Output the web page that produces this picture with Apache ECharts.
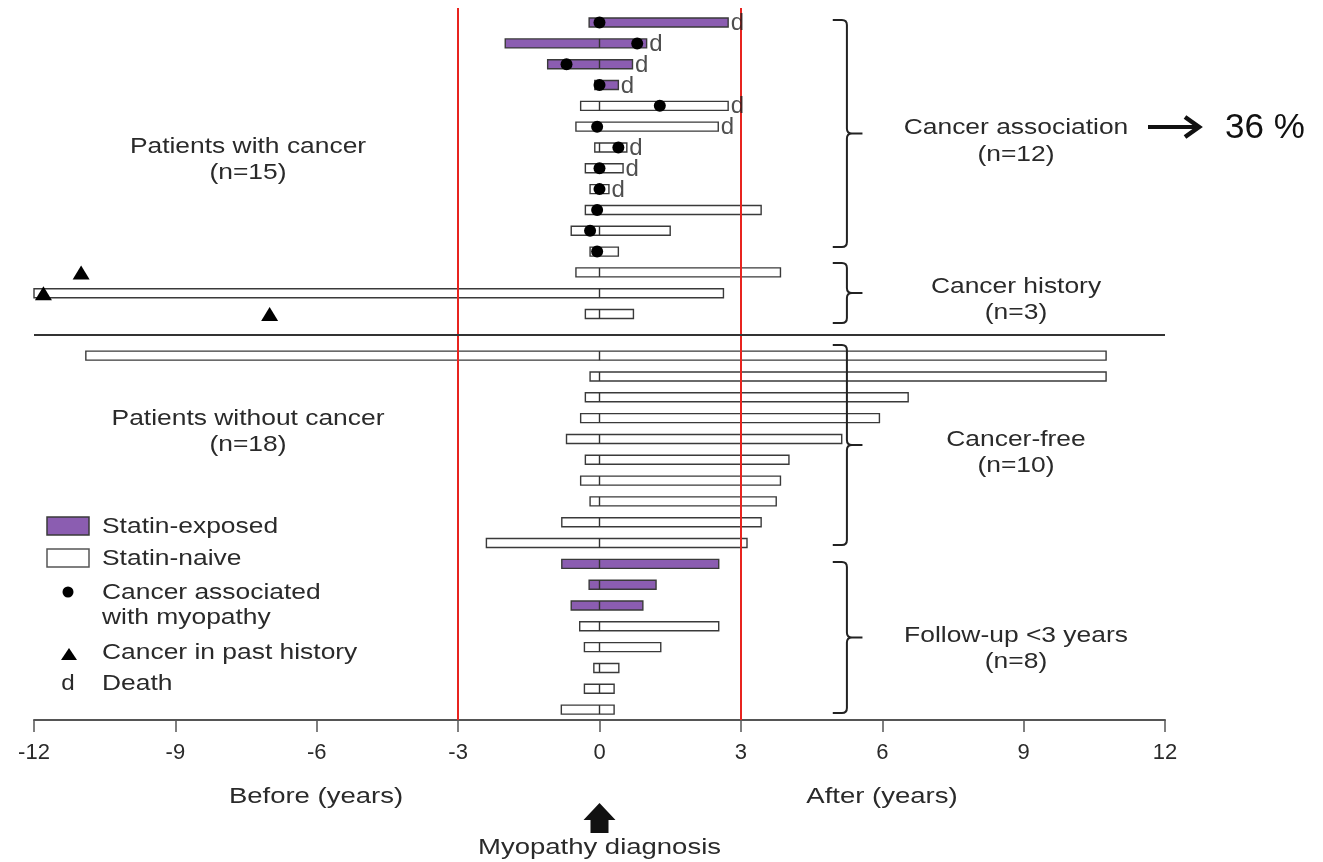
<!DOCTYPE html>
<html>
<head>
<meta charset="utf-8">
<script src="https://cdn.jsdelivr.net/npm/echarts@6/dist/echarts.min.js"></script>
<style>
html,body{margin:0;padding:0;background:#fff;}
#chart{width:1323px;height:862px;}
</style>
</head>
<body>
<div id="chart"></div>
<script>
// ---- data (years relative to myopathy diagnosis) ----
const rowPos = [0,1,2,3,4,5,6,7,8,9,10,11,12,13,14,
                16,17,18,19,20,21,22,23,24,25,
                26,27,28,29,30,31,32,33];
const startYr = [-0.22,-2.0,-1.1,-0.1,-0.4,-0.5,-0.1,-0.3,-0.2,-0.3,-0.6,-0.2,-0.5,-12.0,-0.3,
                 -10.9,-0.2,-0.3,-0.4,-0.7,-0.3,-0.4,-0.2,-0.8,-2.4,
                 -0.8,-0.22,-0.6,-0.42,-0.32,-0.12,-0.32,-0.81];
const endYr = [2.73,1.0,0.7,0.4,2.73,2.52,0.58,0.5,0.2,3.43,1.5,0.4,3.84,2.63,0.72,
               10.75,10.75,6.55,5.94,5.14,4.02,3.84,3.75,3.43,3.13,
               2.53,1.2,0.92,2.53,1.3,0.41,0.31,0.31];
const statinExposed = [1,1,1,1,0,0,0,0,0,0,0,0,0,0,0,
                       0,0,0,0,0,0,0,0,0,0,
                       1,1,1,0,0,0,0,0];
const cancerAt = [0,0.8,-0.7,0,1.28,-0.05,0.4,0,0,-0.05,-0.2,-0.05,null,null,null,
                  null,null,null,null,null,null,null,null,null,null,
                  null,null,null,null,null,null,null,null];
const died = [1,1,1,1,1,1,1,1,1,0,0,0,0,0,0,
              0,0,0,0,0,0,0,0,0,0,
              0,0,0,0,0,0,0,0];
const pastCancerYr = [-11.0,-11.8,-7.0];
const pastCancerRow = [12,13,14];
const separatorRow = 15;
const windowLines = [-3,3];
const xTicks = ['-12','-9','-6','-3','0','3','6','9','12'];
const braceTop = [-0.12,11.55,15.49,25.91];
const braceBottom = [10.78,14.43,25.09,33.16];
const groupNames = ['Cancer association','Cancer history','Cancer-free','Follow-up <3 years'];
const groupN = ['(n=12)','(n=3)','(n=10)','(n=8)'];

// ---- build series data ----
const barData = rowPos.map((r,i)=>[startYr[i], endYr[i], r, statinExposed[i]]);
const dotData = [];
rowPos.forEach((r,i)=>{ if(cancerAt[i]!==null) dotData.push([cancerAt[i], r]); });
const deathData = [];
rowPos.forEach((r,i)=>{ if(died[i]) deathData.push([endYr[i], r]); });
const triData = pastCancerYr.map((x,i)=>[x, pastCancerRow[i]]);
const braceData = braceTop.map((t,i)=>[t, braceBottom[i]]);

const PURPLE = '#8b5db1';
const FONT = '"Liberation Sans", Arial, sans-serif';
const TXT = '#2a2a2a';

const chart = echarts.init(document.getElementById('chart'), null, {renderer:'canvas'});

function tx(text, x, y, size, opts){
  opts = opts || {};
  return {
    type:'text', x:x, y:y, scaleX: opts.scaleX===undefined?1.2:opts.scaleX, z:10,
    style:{text:text, font:(size||22)+'px '+FONT, fill:opts.fill||TXT,
      align:opts.align||'center', verticalAlign:'middle',
      textAlign:opts.align||'center', textVerticalAlign:'middle'}
  };
}

const option = {
  animation:false,
  backgroundColor:'#fff',
  grid:{left:34, right:158, top:8, bottom:142},
  xAxis:{
    type:'value', min:-12, max:12, interval:3,
    axisLine:{show:true, onZero:false, lineStyle:{color:'#555', width:2}},
    axisTick:{show:true, length:12, lineStyle:{color:'#555', width:1.5}},
    axisLabel:{fontSize:22, color:TXT, fontFamily:FONT, margin:22,
      formatter:(v)=>{ const idx=Math.round((v+12)/3); return xTicks[idx]; }},
    splitLine:{show:false}
  },
  yAxis:{type:'value', inverse:true, min:-0.7, max:33.5, show:false},
  series:[
    {
      type:'custom', name:'periods', z:3,
      data:barData,
      encode:{x:[0,1], y:2},
      renderItem:function(params, api){
        const s=api.value(0), e=api.value(1), r=api.value(2), ex=api.value(3);
        const p0=api.coord([s,r]), p1=api.coord([e,r]), z0=api.coord([0,r]);
        const h=9;
        return {type:'group', children:[
          {type:'rect', shape:{x:p0[0], y:p0[1]-h/2, width:p1[0]-p0[0], height:h},
            style:{fill: ex? PURPLE:'#fff', stroke:'#3a3a3a', lineWidth:1.4}},
          {type:'line', shape:{x1:z0[0], y1:p0[1]-h/2, x2:z0[0], y2:p0[1]+h/2},
            style:{stroke:'#333', lineWidth:1.4}}
        ]};
      },
      markLine:{
        silent:true, symbol:['none','none'], label:{show:false},
        data:[
          {xAxis:windowLines[0], lineStyle:{color:'#e8241f', width:2, type:'solid'}},
          {xAxis:windowLines[1], lineStyle:{color:'#e8241f', width:2, type:'solid'}},
          {yAxis:separatorRow, lineStyle:{color:'#333', width:2, type:'solid'}}
        ]
      }
    },
    {
      type:'scatter', name:'Cancer associated with myopathy', z:5,
      data:dotData, symbol:'circle', symbolSize:12,
      itemStyle:{color:'#000', opacity:1}
    },
    {
      type:'scatter', name:'Cancer in past history', z:5,
      data:triData, symbol:'triangle', symbolSize:[17,14],
      itemStyle:{color:'#000', opacity:1}
    },
    {
      type:'scatter', name:'Death', z:6,
      data:deathData, symbolSize:1,
      itemStyle:{color:'transparent'},
      label:{show:true, position:'right', distance:2, offset:[0,1], formatter:'d',
        fontSize:24, fontFamily:FONT, color:'#222'}
    },
    {
      type:'custom', name:'braces', z:4,
      data:braceData,
      encode:{y:[0,1]},
      renderItem:function(params, api){
        const t=api.value(0), b=api.value(1);
        const pt=api.coord([5.25,t]), pb=api.coord([5.25,b]);
        const hx=api.coord([4.95,t])[0], nx=api.coord([5.58,t])[0];
        const vx=pt[0], top=pt[1], bot=pb[1], mid=(top+bot)/2, rr=5;
        const d = 'M'+hx+' '+top+' L'+(vx-rr)+' '+top+' Q'+vx+' '+top+' '+vx+' '+(top+rr)+
          ' L'+vx+' '+(mid-rr)+' Q'+vx+' '+mid+' '+(vx+rr)+' '+mid+' L'+nx+' '+mid+
          ' M'+(vx+rr)+' '+mid+' Q'+vx+' '+mid+' '+vx+' '+(mid+rr)+
          ' L'+vx+' '+(bot-rr)+' Q'+vx+' '+bot+' '+(vx-rr)+' '+bot+' L'+hx+' '+bot;
        return {type:'path', shape:{pathData:d},
          style:{fill:null, stroke:'#222', lineWidth:2}};
      }
    }
  ]
};
chart.setOption(option);

// annotation text and legend
const x0 = chart.convertToPixel({xAxisIndex:0}, 0);
const g = [];
g.push(tx('Patients with cancer', 248, 147));
g.push(tx('(n=15)', 248, 173));
g.push(tx('Patients without cancer', 248, 419));
g.push(tx('(n=18)', 248, 445));
const groupY = [[128,155],[287,313],[440,466],[636,662]];
groupNames.forEach((n,i)=>{
  g.push(tx(n, 1016, groupY[i][0]));
  g.push(tx(groupN[i], 1016, groupY[i][1]));
});
// 36 % callout
g.push({type:'line', shape:{x1:1148, y1:127, x2:1197, y2:127}, style:{stroke:'#111', lineWidth:4}});
g.push({type:'polyline', shape:{points:[[1185,117],[1199,127],[1185,137]]}, style:{stroke:'#111', lineWidth:4.5, fill:null}});
g.push(tx('36 %', 1225, 128, 35, {scaleX:1, align:'left', fill:'#111'}));
// axis captions
g.push(tx('Before (years)', 316, 797, 22, {scaleX:1.25}));
g.push(tx('After (years)', 882, 797, 22, {scaleX:1.25}));
g.push({type:'polygon', shape:{points:[[x0-9,833],[x0-9,820],[x0-16,820],[x0,803],[x0+16,820],[x0+9,820],[x0+9,833]]},
  style:{fill:'#111'}});
g.push(tx('Myopathy diagnosis', x0, 848, 22, {scaleX:1.25}));
// legend
g.push({type:'rect', shape:{x:47, y:517, width:42, height:18}, style:{fill:PURPLE, stroke:'#3a3a3a', lineWidth:1.5}});
g.push(tx('Statin-exposed', 102, 527, 22, {align:'left'}));
g.push({type:'rect', shape:{x:47, y:549, width:42, height:18}, style:{fill:'#fff', stroke:'#555', lineWidth:1.5}});
g.push(tx('Statin-naive', 102, 559, 22, {align:'left'}));
g.push({type:'circle', shape:{cx:68, cy:592, r:5.5}, style:{fill:'#000'}});
g.push(tx('Cancer associated', 102, 593, 22, {align:'left'}));
g.push(tx('with myopathy', 102, 618, 22, {align:'left'}));
g.push({type:'polygon', shape:{points:[[61,660],[69,648],[77,660]]}, style:{fill:'#000'}});
g.push(tx('Cancer in past history', 102, 653, 22, {align:'left'}));
g.push(tx('d', 68, 684, 22, {scaleX:1.1}));
g.push(tx('Death', 102, 684, 22, {align:'left'}));
chart.setOption({graphic:{elements:g}});
</script>
</body>
</html>
